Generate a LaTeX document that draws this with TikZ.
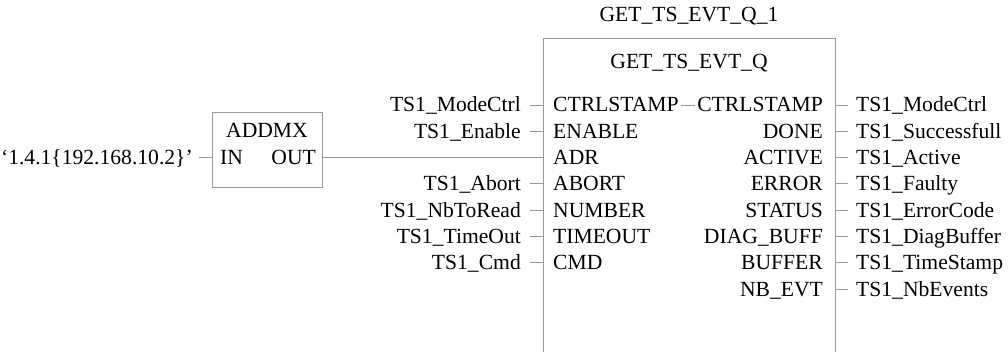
\documentclass[tikz,border=0pt]{standalone}
\usepackage{fontspec}
\setmainfont{Liberation Serif}
\begin{document}
\begin{tikzpicture}[x=1pt,y=-1pt,
  font=\fontsize{21.6}{24}\selectfont,
  wire/.style={draw=black!40, line width=0.9pt},
  boxline/.style={draw=black!40, line width=0.9pt},
  txt/.style={inner sep=0pt}]
\useasboundingbox (0,0) rectangle (1008,352);
\def\rowA{105}\def\rowD{26.3}\def\bl{7}
% main function block
\coordinate (mbl) at (543,352);
\coordinate (mtl) at (543,38);
\coordinate (mtr) at (835,38);
\coordinate (mbr) at (835,352);
\draw[boxline] (mbl) -- (mtl) -- (mtr) -- (mbr);
\node[txt,anchor=base] (inst) at (689,22) {GET\_TS\_EVT\_Q\_1};
\node[txt,anchor=base] (ftype) at (689,69) {GET\_TS\_EVT\_Q};
% left pins
\foreach \i/\pin/\lab in {0/CTRLSTAMP/TS1\_ModeCtrl,1/ENABLE/TS1\_Enable,3/ABORT/TS1\_Abort,4/NUMBER/TS1\_NbToRead,5/TIMEOUT/TS1\_TimeOut,6/CMD/TS1\_Cmd}{
  \pgfmathsetmacro\yy{\rowA+\rowD*\i}
  \coordinate (li\i) at (543,\yy);
  \coordinate (lt\i) at (530,\yy);
  \node[txt,anchor=base west] (pi\i) at (553,{\yy+\bl}) {\pin};
  \node[txt,anchor=base east] (ei\i) at (521,{\yy+\bl}) {\lab};
  \draw[wire] (lt\i) -- (li\i);
}
\pgfmathsetmacro\yadr{\rowA+\rowD*2}
\coordinate (li2) at (543,\yadr);
\node[txt,anchor=base west] (pi2) at (553,{\yadr+\bl}) {ADR};
% right pins
\foreach \i/\pin/\lab in {0/CTRLSTAMP/TS1\_ModeCtrl,1/DONE/TS1\_Successfull,2/ACTIVE/TS1\_Active,3/ERROR/TS1\_Faulty,4/STATUS/TS1\_ErrorCode,5/DIAG\_BUFF/TS1\_DiagBuffer,6/BUFFER/TS1\_TimeStamp,7/NB\_EVT/TS1\_NbEvents}{
  \pgfmathsetmacro\yy{\rowA+\rowD*\i}
  \coordinate (ro\i) at (835,\yy);
  \coordinate (rt\i) at (848,\yy);
  \node[txt,anchor=base east] (po\i) at (823,{\yy+\bl}) {\pin};
  \node[txt,anchor=base west] (eo\i) at (856,{\yy+\bl}) {\lab};
  \draw[wire] (ro\i) -- (rt\i);
}
% in-out link of CTRLSTAMP
\draw[wire] ([xshift=2pt]pi0.east |- li0) -- ([xshift=-2pt]po0.west |- li0);
% ADDMX block
\node[boxline, minimum width=110pt, minimum height=75pt, inner sep=0pt] (addmx) at (267,150) {};
\node[txt,anchor=base] (addt) at (267,138) {ADDMX};
\node[txt,anchor=base west] (addin) at (220,{\yadr+\bl}) {IN};
\node[txt,anchor=base east] (addout) at (316,{\yadr+\bl}) {OUT};
\coordinate (ain) at (addmx.west |- li2);
\coordinate (aout) at (addmx.east |- li2);
\coordinate (aint) at ([xshift=-13pt]ain);
\node[txt,anchor=base east] (const) at (193,{\yadr+\bl}) {‘1.4.1\{192.168.10.2\}’};
\draw[wire] (aint) -- (ain);
\draw[wire] (aout) -- (li2);
\end{tikzpicture}
\end{document}
